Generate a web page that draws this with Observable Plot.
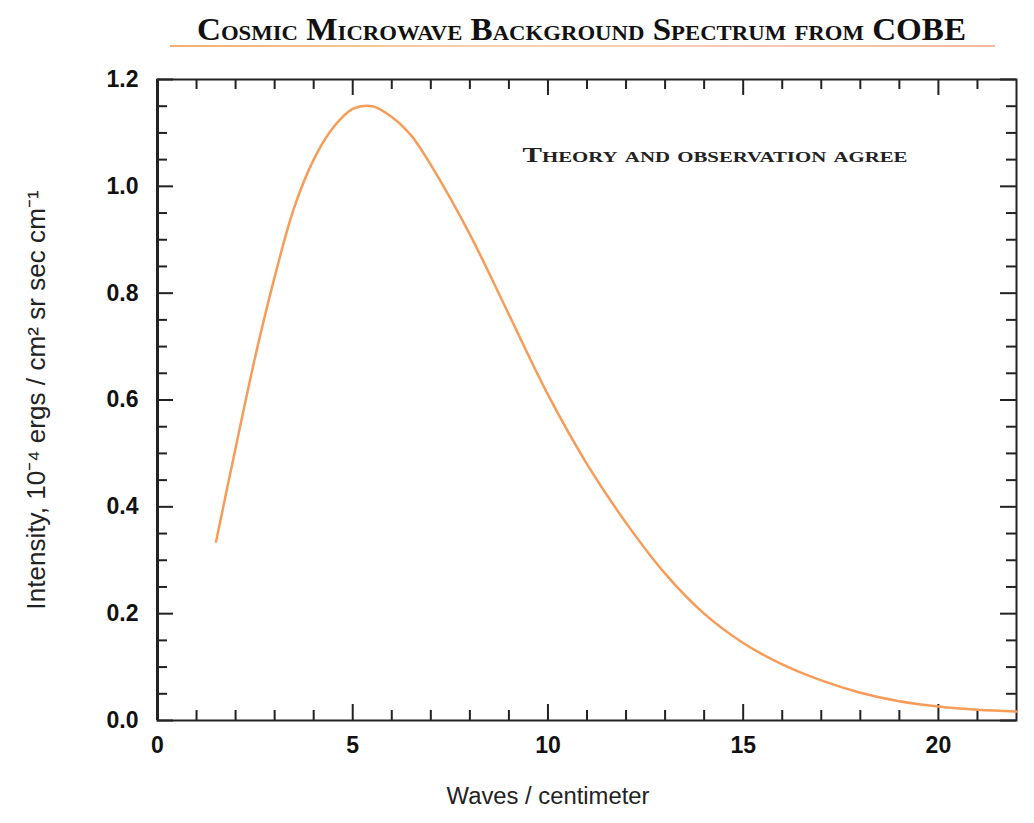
<!DOCTYPE html>
<html>
<head>
<meta charset="utf-8">
<script src="https://cdn.jsdelivr.net/npm/d3@7"></script>
<script src="https://cdn.jsdelivr.net/npm/@observablehq/plot@0.6"></script>
<style>
  html, body { margin: 0; padding: 0; background: #fff; }
  #wrap { position: relative; width: 1034px; height: 823px; }
  #title {
    position: absolute; top: 11px; left: 197px; height: 40px;
    font-family: "Liberation Serif", "DejaVu Serif", serif; font-weight: bold;
    font-variant: small-caps; font-size: 32px; color: #111; white-space: nowrap;
    transform-origin: 0 0; line-height: 36px;
  }
  #rule {
    position: absolute; top: 45px; left: 170px; width: 825px; height: 1.5px;
    background: linear-gradient(90deg, #f2b070, #f6d2b0 40%, #f7c9b8 70%, #f4b89a);
  }
  #chart { position: absolute; top: 60px; left: 0; }
  .annot { font-variant: small-caps; }
</style>
</head>
<body>
<div id="wrap">
  <div id="title">Cosmic Microwave Background Spectrum from COBE</div>
  <div id="rule"></div>
  <div id="chart"></div>
</div>
<script>
// Data
const waveNumber = [1.5, 2, 2.5, 3, 3.5, 4, 4.5, 5, 5.5, 6, 6.5, 7, 8, 9, 10, 11, 12, 13, 14, 15, 16, 17, 18, 19, 20, 21, 22];
const intensity  = [0.335, 0.51, 0.68, 0.83, 0.96, 1.05, 1.11, 1.145, 1.15, 1.13, 1.095, 1.04, 0.91, 0.76, 0.61, 0.48, 0.37, 0.275, 0.2, 0.145, 0.105, 0.075, 0.052, 0.036, 0.026, 0.02, 0.017];
const xMajorTicks = [0, 5, 10, 15, 20];
const xMinorTicks = [1, 2, 3, 4, 6, 7, 8, 9, 11, 12, 13, 14, 16, 17, 18, 19, 21];
const yMajorTicks = [0, 0.2, 0.4, 0.6, 0.8, 1.0, 1.2];
const yMinorTicks = [0.05, 0.1, 0.15, 0.25, 0.3, 0.35, 0.45, 0.5, 0.55, 0.65, 0.7, 0.75, 0.85, 0.9, 0.95, 1.05, 1.1, 1.15];
const xLabel = "Waves / centimeter";
const yLabel = "Intensity, 10\u207B\u2074 ergs / cm\u00B2 sr sec cm\u207B\u00B9";
const annotation = "Theory and observation agree";

const spectrum = waveNumber.map((x, i) => ({x, y: intensity[i]}));

const W = 1034, H = 763;
const mT = 19, mB = 103, mL = 157, mR = 18;
const innerH = H - mT - mB, innerW = W - mL - mR;
const majorLen = 16, minorLen = 10;

const plot = Plot.plot({
  width: W, height: H,
  marginTop: mT, marginBottom: mB, marginLeft: mL, marginRight: mR,
  style: {fontFamily: "'Liberation Sans', Arial, sans-serif", background: "#fff", color: "#111"},
  x: {domain: [0, 22], label: null},
  y: {domain: [0, 1.2], label: null},
  marks: [
    // bottom ticks
    Plot.tickX(xMajorTicks, {x: d => d, insetTop: innerH - majorLen, stroke: "#222", strokeWidth: 2}),
    Plot.tickX(xMinorTicks, {x: d => d, insetTop: innerH - minorLen, stroke: "#222", strokeWidth: 2}),
    // top ticks
    Plot.tickX(xMajorTicks, {x: d => d, insetBottom: innerH - majorLen, stroke: "#222", strokeWidth: 2}),
    Plot.tickX(xMinorTicks, {x: d => d, insetBottom: innerH - minorLen, stroke: "#222", strokeWidth: 2}),
    // left ticks
    Plot.tickY(yMajorTicks, {y: d => d, insetRight: innerW - majorLen, stroke: "#222", strokeWidth: 2}),
    Plot.tickY(yMinorTicks, {y: d => d, insetRight: innerW - minorLen, stroke: "#222", strokeWidth: 2}),
    // right ticks
    Plot.tickY(yMajorTicks, {y: d => d, insetLeft: innerW - majorLen, stroke: "#222", strokeWidth: 2}),
    Plot.tickY(yMinorTicks, {y: d => d, insetLeft: innerW - minorLen, stroke: "#222", strokeWidth: 2}),
    Plot.frame({stroke: "#222", strokeWidth: 2}),
    Plot.ruleX([0], {stroke: "#222", strokeWidth: 3}),
    Plot.axisX({ticks: xMajorTicks, tickSize: 0, tickPadding: 16, fontSize: 23, fontWeight: "bold", label: null, tickFormat: d3.format("d")}),
    Plot.axisY({ticks: yMajorTicks, tickSize: 0, tickPadding: 19, fontSize: 23, fontWeight: "bold", label: null, tickFormat: d3.format(".1f")}),
    Plot.line(spectrum, {x: "x", y: "y", curve: "catmull-rom", stroke: "#f79c58", strokeWidth: 2.5}),
    Plot.text([annotation], {frameAnchor: "top-left", dx: 365, dy: 68, text: d => d, textAnchor: "start",
      fontFamily: "'Liberation Serif', 'DejaVu Serif', serif", fontWeight: "bold", fontSize: 21, fill: "#222", className: "annot"}),
    Plot.text([xLabel], {frameAnchor: "bottom", dx: -39, dy: 83, text: d => d, textAnchor: "middle", fontSize: 18, fill: "#222", className: "xlab"}),
    Plot.text([yLabel], {frameAnchor: "left", dx: -121, rotate: -90, text: d => d, textAnchor: "middle", fontSize: 17, fill: "#222", className: "ylab"})
  ]
});
document.getElementById("chart").appendChild(plot);

// fit title width
const t = document.getElementById("title");
const tw = t.getBoundingClientRect().width;
t.style.transform = `scaleX(${769 / tw})`;
// fit annotation width (start-anchored, so textLength is safe)
const an = plot.querySelector(".annot text");
if (an) { an.setAttribute("textLength", 385); an.setAttribute("lengthAdjust", "spacingAndGlyphs"); }
// fit axis labels by font size (keeps centering)
function fitFont(sel, target) {
  const el = plot.querySelector(sel + " text");
  if (!el) return;
  const len = el.getComputedTextLength();
  const fs = parseFloat(getComputedStyle(el).fontSize) || 17;
  el.setAttribute("font-size", (fs * target / len).toFixed(2));
  el.style.fontSize = (fs * target / len).toFixed(2) + "px";
}
fitFont(".xlab", 203);
fitFont(".ylab", 420);
</script>
</body>
</html>
